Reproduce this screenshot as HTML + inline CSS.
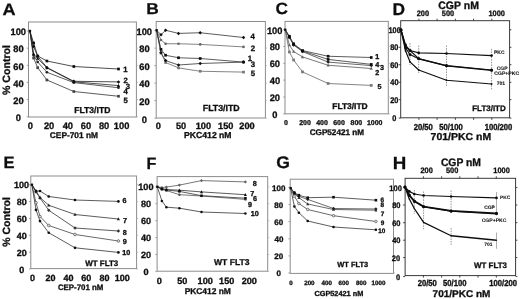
<!DOCTYPE html>
<html><head><meta charset="utf-8"><title>Figure</title>
<style>
html,body{margin:0;padding:0;background:#fff;}
body{width:520px;height:299px;overflow:hidden;font-family:"Liberation Sans",sans-serif;}
svg{display:block;font-family:"Liberation Sans",sans-serif;font-weight:bold;will-change:transform;opacity:0.999;}
text{font-family:"Liberation Sans",sans-serif;font-weight:bold;}
</style></head><body>
<svg width="520" height="299" viewBox="0 0 520 299" text-rendering="geometricPrecision">
<defs><filter id="soft" x="0" y="0" width="520" height="299" filterUnits="userSpaceOnUse"><feGaussianBlur stdDeviation="0.32"/></filter></defs>
<rect x="0" y="0" width="520" height="299" fill="#fff"/>
<g filter="url(#soft)">
<text transform="translate(2.62,14.75) scale(1.107,1)" font-size="16.38" fill="#0d0d0d" stroke="#0d0d0d" stroke-width="0.25">A</text>
<rect x="28.5" y="22" width="107.9" height="95.0" fill="none" stroke="#8c8c8c" stroke-width="1"/>
<line x1="26.70" y1="31.00" x2="28.50" y2="31.00" stroke="#8c8c8c" stroke-width="0.8" />
<line x1="136.40" y1="31.00" x2="138.00" y2="31.00" stroke="#a8a8a8" stroke-width="0.7" />
<text x="10.53" y="35.29" font-size="9.30" fill="#0d0d0d" stroke="#0d0d0d" stroke-width="0.3">100</text>
<line x1="26.70" y1="48.20" x2="28.50" y2="48.20" stroke="#8c8c8c" stroke-width="0.8" />
<line x1="136.40" y1="48.20" x2="138.00" y2="48.20" stroke="#a8a8a8" stroke-width="0.7" />
<text x="13.25" y="52.49" font-size="9.30" fill="#0d0d0d" stroke="#0d0d0d" stroke-width="0.3">80</text>
<line x1="26.70" y1="65.30" x2="28.50" y2="65.30" stroke="#8c8c8c" stroke-width="0.8" />
<line x1="136.40" y1="65.30" x2="138.00" y2="65.30" stroke="#a8a8a8" stroke-width="0.7" />
<text x="13.24" y="69.59" font-size="9.30" fill="#0d0d0d" stroke="#0d0d0d" stroke-width="0.3">60</text>
<line x1="26.70" y1="82.40" x2="28.50" y2="82.40" stroke="#8c8c8c" stroke-width="0.8" />
<line x1="136.40" y1="82.40" x2="138.00" y2="82.40" stroke="#a8a8a8" stroke-width="0.7" />
<text x="13.33" y="86.69" font-size="9.30" fill="#0d0d0d" stroke="#0d0d0d" stroke-width="0.3">40</text>
<line x1="26.70" y1="99.60" x2="28.50" y2="99.60" stroke="#8c8c8c" stroke-width="0.8" />
<line x1="136.40" y1="99.60" x2="138.00" y2="99.60" stroke="#a8a8a8" stroke-width="0.7" />
<text x="13.25" y="103.89" font-size="9.30" fill="#0d0d0d" stroke="#0d0d0d" stroke-width="0.3">20</text>
<line x1="26.70" y1="116.80" x2="28.50" y2="116.80" stroke="#8c8c8c" stroke-width="0.8" />
<line x1="136.40" y1="116.80" x2="138.00" y2="116.80" stroke="#a8a8a8" stroke-width="0.7" />
<text x="15.81" y="121.09" font-size="9.30" fill="#0d0d0d" stroke="#0d0d0d" stroke-width="0.3">0</text>
<text x="27.71" y="129.19" font-size="9.30" fill="#0d0d0d" stroke="#0d0d0d" stroke-width="0.3">0</text>
<text x="43.95" y="129.19" font-size="9.30" fill="#0d0d0d" stroke="#0d0d0d" stroke-width="0.3">20</text>
<text x="62.63" y="129.19" font-size="9.30" fill="#0d0d0d" stroke="#0d0d0d" stroke-width="0.3">40</text>
<text x="80.74" y="129.19" font-size="9.30" fill="#0d0d0d" stroke="#0d0d0d" stroke-width="0.3">60</text>
<text x="98.95" y="129.19" font-size="9.30" fill="#0d0d0d" stroke="#0d0d0d" stroke-width="0.3">80</text>
<text x="113.83" y="129.19" font-size="9.30" fill="#0d0d0d" stroke="#0d0d0d" stroke-width="0.3">100</text>
<text x="49.87" y="138.06" font-size="8.32" fill="#0d0d0d" stroke="#0d0d0d" stroke-width="0.3">CEP-701 nM</text>
<text x="74.23" y="113.42" font-size="8.60" fill="#0d0d0d" stroke="#0d0d0d" stroke-width="0.3">FLT3/ITD</text>
<text transform="translate(10.04,95.07) rotate(-90)" font-size="10.60" fill="#0d0d0d" stroke="#0d0d0d" stroke-width="0.3">% Control</text>
<polyline points="29.90,31.00 33.60,58.00 37.70,67.70 46.90,80.00 73.80,91.50 118.50,96.25" fill="none" stroke="#333" stroke-width="0.8" stroke-linejoin="round"/>
<polyline points="29.90,31.00 33.60,55.00 37.70,62.00 46.90,72.25 73.80,82.60 118.50,87.75" fill="none" stroke="#333" stroke-width="0.8" stroke-linejoin="round"/>
<polyline points="29.90,31.00 33.60,54.00 37.70,58.50 46.90,67.80 73.80,81.80 118.50,85.60" fill="none" stroke="#222" stroke-width="0.8" stroke-linejoin="round"/>
<polyline points="29.90,31.00 33.60,46.50 37.70,56.30 46.90,67.50 73.80,81.30 118.50,81.90" fill="none" stroke="#222" stroke-width="0.8" stroke-linejoin="round"/>
<polyline points="29.90,31.00 33.60,43.00 37.70,56.00 46.90,61.00 73.80,66.50 118.50,69.00" fill="none" stroke="#222" stroke-width="0.8" stroke-linejoin="round"/>
<rect x="32.25" y="56.65" width="2.70" height="2.70" fill="#444"/>
<rect x="36.35" y="66.35" width="2.70" height="2.70" fill="#444"/>
<rect x="45.55" y="78.65" width="2.70" height="2.70" fill="#444"/>
<rect x="72.45" y="90.15" width="2.70" height="2.70" fill="#444"/>
<rect x="117.15" y="94.90" width="2.70" height="2.70" fill="#444"/>
<circle cx="33.60" cy="55.00" r="1.35" fill="#222"/>
<circle cx="37.70" cy="62.00" r="1.35" fill="#222"/>
<circle cx="46.90" cy="72.25" r="1.35" fill="#222"/>
<circle cx="73.80" cy="82.60" r="1.35" fill="#222"/>
<circle cx="118.50" cy="87.75" r="1.35" fill="#222"/>
<path d="M33.60,52.24 L35.22,55.35 L31.98,55.35Z" fill="#111"/>
<path d="M37.70,56.74 L39.32,59.85 L36.08,59.85Z" fill="#111"/>
<path d="M46.90,66.05 L48.52,69.15 L45.28,69.15Z" fill="#111"/>
<path d="M73.80,80.05 L75.42,83.15 L72.18,83.15Z" fill="#111"/>
<path d="M118.50,83.84 L120.12,86.95 L116.88,86.95Z" fill="#111"/>
<path d="M33.60,44.74 L35.36,46.50 L33.60,48.26 L31.85,46.50Z" fill="#111"/>
<path d="M37.70,54.54 L39.46,56.30 L37.70,58.05 L35.95,56.30Z" fill="#111"/>
<path d="M46.90,65.75 L48.66,67.50 L46.90,69.25 L45.14,67.50Z" fill="#111"/>
<path d="M73.80,79.55 L75.55,81.30 L73.80,83.05 L72.05,81.30Z" fill="#111"/>
<path d="M118.50,80.15 L120.25,81.90 L118.50,83.66 L116.75,81.90Z" fill="#111"/>
<rect x="32.25" y="41.65" width="2.70" height="2.70" fill="#111"/>
<rect x="36.35" y="54.65" width="2.70" height="2.70" fill="#111"/>
<rect x="45.55" y="59.65" width="2.70" height="2.70" fill="#111"/>
<rect x="72.45" y="65.15" width="2.70" height="2.70" fill="#111"/>
<rect x="117.15" y="67.65" width="2.70" height="2.70" fill="#111"/>
<rect x="28.80" y="29.80" width="2.3" height="2.4" fill="#111"/>
<text x="123.33" y="72.34" font-size="7.70" fill="#0d0d0d" stroke="#0d0d0d" stroke-width="0.3">1</text>
<text x="123.48" y="83.28" font-size="7.70" fill="#0d0d0d" stroke="#0d0d0d" stroke-width="0.3">2</text>
<text x="125.71" y="88.84" font-size="7.70" fill="#0d0d0d" stroke="#0d0d0d" stroke-width="0.3">3</text>
<text x="123.42" y="94.24" font-size="7.70" fill="#0d0d0d" stroke="#0d0d0d" stroke-width="0.3">4</text>
<text x="123.46" y="102.81" font-size="7.70" fill="#0d0d0d" stroke="#0d0d0d" stroke-width="0.3">5</text>
<text transform="translate(146.24,14.20) scale(1.105,1)" font-size="15.73" fill="#0d0d0d" stroke="#0d0d0d" stroke-width="0.25">B</text>
<rect x="156.2" y="21.5" width="109.19999999999999" height="96.5" fill="none" stroke="#8c8c8c" stroke-width="1"/>
<line x1="154.40" y1="30.60" x2="156.20" y2="30.60" stroke="#8c8c8c" stroke-width="0.8" />
<line x1="265.40" y1="30.60" x2="267.00" y2="30.60" stroke="#a8a8a8" stroke-width="0.7" />
<text x="136.53" y="34.89" font-size="9.30" fill="#0d0d0d" stroke="#0d0d0d" stroke-width="0.3">100</text>
<line x1="154.40" y1="48.10" x2="156.20" y2="48.10" stroke="#8c8c8c" stroke-width="0.8" />
<line x1="265.40" y1="48.10" x2="267.00" y2="48.10" stroke="#a8a8a8" stroke-width="0.7" />
<text x="139.25" y="52.39" font-size="9.30" fill="#0d0d0d" stroke="#0d0d0d" stroke-width="0.3">80</text>
<line x1="154.40" y1="65.60" x2="156.20" y2="65.60" stroke="#8c8c8c" stroke-width="0.8" />
<line x1="265.40" y1="65.60" x2="267.00" y2="65.60" stroke="#a8a8a8" stroke-width="0.7" />
<text x="139.24" y="69.89" font-size="9.30" fill="#0d0d0d" stroke="#0d0d0d" stroke-width="0.3">60</text>
<line x1="154.40" y1="83.10" x2="156.20" y2="83.10" stroke="#8c8c8c" stroke-width="0.8" />
<line x1="265.40" y1="83.10" x2="267.00" y2="83.10" stroke="#a8a8a8" stroke-width="0.7" />
<text x="139.33" y="87.39" font-size="9.30" fill="#0d0d0d" stroke="#0d0d0d" stroke-width="0.3">40</text>
<line x1="154.40" y1="100.60" x2="156.20" y2="100.60" stroke="#8c8c8c" stroke-width="0.8" />
<line x1="265.40" y1="100.60" x2="267.00" y2="100.60" stroke="#a8a8a8" stroke-width="0.7" />
<text x="139.25" y="104.89" font-size="9.30" fill="#0d0d0d" stroke="#0d0d0d" stroke-width="0.3">20</text>
<line x1="154.40" y1="118.30" x2="156.20" y2="118.30" stroke="#8c8c8c" stroke-width="0.8" />
<line x1="265.40" y1="118.30" x2="267.00" y2="118.30" stroke="#a8a8a8" stroke-width="0.7" />
<text x="141.81" y="122.59" font-size="9.30" fill="#0d0d0d" stroke="#0d0d0d" stroke-width="0.3">0</text>
<text x="155.74" y="129.46" font-size="9.20" fill="#0d0d0d" stroke="#0d0d0d" stroke-width="0.3">0</text>
<text x="175.92" y="129.46" font-size="9.20" fill="#0d0d0d" stroke="#0d0d0d" stroke-width="0.3">50</text>
<text x="195.71" y="129.46" font-size="9.20" fill="#0d0d0d" stroke="#0d0d0d" stroke-width="0.3">100</text>
<text x="218.11" y="129.46" font-size="9.20" fill="#0d0d0d" stroke="#0d0d0d" stroke-width="0.3">150</text>
<text x="239.35" y="129.46" font-size="9.20" fill="#0d0d0d" stroke="#0d0d0d" stroke-width="0.3">200</text>
<text x="184.12" y="138.37" font-size="8.64" fill="#0d0d0d" stroke="#0d0d0d" stroke-width="0.3">PKC412 nM</text>
<text x="202.81" y="111.29" font-size="8.79" fill="#0d0d0d" stroke="#0d0d0d" stroke-width="0.3">FLT3/ITD</text>
<polyline points="156.60,30.25 161.00,53.00 165.60,62.50 178.50,67.90 200.20,71.25 243.50,72.10" fill="none" stroke="#666" stroke-width="0.8" stroke-linejoin="round"/>
<polyline points="156.60,30.25 161.00,40.00 165.60,43.75 178.50,43.75 200.20,44.40 243.50,46.90" fill="none" stroke="#666" stroke-width="0.8" stroke-linejoin="round"/>
<polyline points="156.60,30.25 161.00,52.75 165.60,60.60 178.50,65.00 200.20,63.50 243.50,62.10" fill="none" stroke="#333" stroke-width="0.8" stroke-linejoin="round"/>
<polyline points="156.60,30.25 161.00,49.40 165.60,55.25 178.50,57.75 200.20,58.50 243.50,62.10" fill="none" stroke="#333" stroke-width="0.8" stroke-linejoin="round"/>
<polyline points="156.60,30.25 161.00,34.75 165.60,30.25 178.50,33.40 200.20,32.75 243.50,37.50" fill="none" stroke="#333" stroke-width="0.8" stroke-linejoin="round"/>
<rect x="159.65" y="51.65" width="2.70" height="2.70" fill="#777"/>
<rect x="164.25" y="61.15" width="2.70" height="2.70" fill="#777"/>
<rect x="177.15" y="66.55" width="2.70" height="2.70" fill="#777"/>
<rect x="198.85" y="69.90" width="2.70" height="2.70" fill="#777"/>
<rect x="242.15" y="70.75" width="2.70" height="2.70" fill="#777"/>
<circle cx="161.00" cy="40.00" r="1.35" fill="#666"/>
<circle cx="165.60" cy="43.75" r="1.35" fill="#666"/>
<circle cx="178.50" cy="43.75" r="1.35" fill="#666"/>
<circle cx="200.20" cy="44.40" r="1.35" fill="#666"/>
<circle cx="243.50" cy="46.90" r="1.35" fill="#666"/>
<path d="M161.00,50.99 L162.75,52.75 L161.00,54.51 L159.25,52.75Z" fill="#111"/>
<path d="M165.60,58.84 L167.35,60.60 L165.60,62.36 L163.84,60.60Z" fill="#111"/>
<path d="M178.50,63.24 L180.25,65.00 L178.50,66.75 L176.75,65.00Z" fill="#111"/>
<path d="M200.20,61.74 L201.95,63.50 L200.20,65.25 L198.44,63.50Z" fill="#111"/>
<path d="M243.50,60.34 L245.25,62.10 L243.50,63.86 L241.75,62.10Z" fill="#111"/>
<rect x="159.65" y="48.05" width="2.70" height="2.70" fill="#111"/>
<rect x="164.25" y="53.90" width="2.70" height="2.70" fill="#111"/>
<rect x="177.15" y="56.40" width="2.70" height="2.70" fill="#111"/>
<rect x="198.85" y="57.15" width="2.70" height="2.70" fill="#111"/>
<rect x="242.15" y="60.75" width="2.70" height="2.70" fill="#111"/>
<path d="M161.00,32.99 L162.75,34.75 L161.00,36.51 L159.25,34.75Z" fill="#111"/>
<path d="M165.60,28.50 L167.35,30.25 L165.60,32.01 L163.84,30.25Z" fill="#111"/>
<path d="M178.50,31.64 L180.25,33.40 L178.50,35.16 L176.75,33.40Z" fill="#111"/>
<path d="M200.20,31.00 L201.95,32.75 L200.20,34.51 L198.44,32.75Z" fill="#111"/>
<path d="M243.50,35.74 L245.25,37.50 L243.50,39.26 L241.75,37.50Z" fill="#111"/>
<rect x="155.50" y="29.05" width="2.3" height="2.4" fill="#111"/>
<text x="250.59" y="39.28" font-size="7.80" fill="#0d0d0d" stroke="#0d0d0d" stroke-width="0.3">4</text>
<text x="250.66" y="50.52" font-size="7.80" fill="#0d0d0d" stroke="#0d0d0d" stroke-width="0.3">2</text>
<text x="247.70" y="61.48" font-size="7.80" fill="#0d0d0d" stroke="#0d0d0d" stroke-width="0.3">1</text>
<text x="250.68" y="67.48" font-size="7.80" fill="#0d0d0d" stroke="#0d0d0d" stroke-width="0.3">3</text>
<text x="250.63" y="75.84" font-size="7.80" fill="#0d0d0d" stroke="#0d0d0d" stroke-width="0.3">5</text>
<text transform="translate(275.61,14.34) scale(1.063,1)" font-size="16.27" fill="#0d0d0d" stroke="#0d0d0d" stroke-width="0.25">C</text>
<rect x="285" y="21.4" width="103.30000000000001" height="92.4" fill="none" stroke="#8c8c8c" stroke-width="1"/>
<line x1="283.20" y1="29.60" x2="285.00" y2="29.60" stroke="#8c8c8c" stroke-width="0.8" />
<line x1="388.30" y1="29.60" x2="389.90" y2="29.60" stroke="#a8a8a8" stroke-width="0.7" />
<text x="266.93" y="33.59" font-size="9.30" fill="#0d0d0d" stroke="#0d0d0d" stroke-width="0.3">100</text>
<line x1="283.20" y1="46.50" x2="285.00" y2="46.50" stroke="#8c8c8c" stroke-width="0.8" />
<line x1="388.30" y1="46.50" x2="389.90" y2="46.50" stroke="#a8a8a8" stroke-width="0.7" />
<text x="269.65" y="50.49" font-size="9.30" fill="#0d0d0d" stroke="#0d0d0d" stroke-width="0.3">80</text>
<line x1="283.20" y1="63.30" x2="285.00" y2="63.30" stroke="#8c8c8c" stroke-width="0.8" />
<line x1="388.30" y1="63.30" x2="389.90" y2="63.30" stroke="#a8a8a8" stroke-width="0.7" />
<text x="269.64" y="67.29" font-size="9.30" fill="#0d0d0d" stroke="#0d0d0d" stroke-width="0.3">60</text>
<line x1="283.20" y1="80.10" x2="285.00" y2="80.10" stroke="#8c8c8c" stroke-width="0.8" />
<line x1="388.30" y1="80.10" x2="389.90" y2="80.10" stroke="#a8a8a8" stroke-width="0.7" />
<text x="269.73" y="84.09" font-size="9.30" fill="#0d0d0d" stroke="#0d0d0d" stroke-width="0.3">40</text>
<line x1="283.20" y1="97.00" x2="285.00" y2="97.00" stroke="#8c8c8c" stroke-width="0.8" />
<line x1="388.30" y1="97.00" x2="389.90" y2="97.00" stroke="#a8a8a8" stroke-width="0.7" />
<text x="269.65" y="100.99" font-size="9.30" fill="#0d0d0d" stroke="#0d0d0d" stroke-width="0.3">20</text>
<line x1="283.20" y1="113.90" x2="285.00" y2="113.90" stroke="#8c8c8c" stroke-width="0.8" />
<line x1="388.30" y1="113.90" x2="389.90" y2="113.90" stroke="#a8a8a8" stroke-width="0.7" />
<text x="272.21" y="117.89" font-size="9.30" fill="#0d0d0d" stroke="#0d0d0d" stroke-width="0.3">0</text>
<text x="284.05" y="124.90" font-size="7.00" fill="#0d0d0d" stroke="#0d0d0d" stroke-width="0.3">0</text>
<text x="299.18" y="124.90" font-size="7.00" fill="#0d0d0d" stroke="#0d0d0d" stroke-width="0.3">200</text>
<text x="316.14" y="124.90" font-size="7.00" fill="#0d0d0d" stroke="#0d0d0d" stroke-width="0.3">400</text>
<text x="333.17" y="124.90" font-size="7.00" fill="#0d0d0d" stroke="#0d0d0d" stroke-width="0.3">600</text>
<text x="350.58" y="124.90" font-size="7.00" fill="#0d0d0d" stroke="#0d0d0d" stroke-width="0.3">800</text>
<text x="366.93" y="124.90" font-size="7.00" fill="#0d0d0d" stroke="#0d0d0d" stroke-width="0.3">1000</text>
<text x="309.67" y="134.50" font-size="8.17" fill="#0d0d0d" stroke="#0d0d0d" stroke-width="0.3">CGP52421 nM</text>
<text x="332.24" y="108.67" font-size="8.45" fill="#0d0d0d" stroke="#0d0d0d" stroke-width="0.3">FLT3/ITD</text>
<polyline points="285.20,29.75 289.40,52.00 293.60,60.00 302.50,71.90 328.10,83.50 371.25,85.40" fill="none" stroke="#666" stroke-width="0.8" stroke-linejoin="round"/>
<polyline points="285.20,29.75 289.40,45.00 293.60,51.50 302.50,56.90 328.10,65.25 371.25,68.50" fill="none" stroke="#555" stroke-width="0.8" stroke-linejoin="round"/>
<polyline points="285.20,29.75 289.40,37.50 293.60,45.00 302.50,51.60 328.10,62.10 371.25,65.60" fill="none" stroke="#444" stroke-width="0.8" stroke-linejoin="round"/>
<polyline points="285.20,29.75 289.40,37.00 293.60,44.50 302.50,51.00 328.10,59.40 371.25,64.40" fill="none" stroke="#333" stroke-width="0.8" stroke-linejoin="round"/>
<polyline points="285.20,29.75 289.40,36.25 293.60,43.75 302.50,50.60 328.10,56.25 371.25,57.50" fill="none" stroke="#333" stroke-width="0.8" stroke-linejoin="round"/>
<rect x="288.05" y="50.65" width="2.70" height="2.70" fill="#777"/>
<rect x="292.25" y="58.65" width="2.70" height="2.70" fill="#777"/>
<rect x="301.15" y="70.55" width="2.70" height="2.70" fill="#777"/>
<rect x="326.75" y="82.15" width="2.70" height="2.70" fill="#777"/>
<rect x="369.90" y="84.05" width="2.70" height="2.70" fill="#777"/>
<path d="M289.40,43.24 L291.02,46.35 L287.78,46.35Z" fill="#666"/>
<path d="M293.60,49.74 L295.22,52.85 L291.98,52.85Z" fill="#666"/>
<path d="M302.50,55.14 L304.12,58.25 L300.88,58.25Z" fill="#666"/>
<path d="M328.10,63.49 L329.72,66.60 L326.48,66.60Z" fill="#666"/>
<path d="M371.25,66.75 L372.87,69.85 L369.63,69.85Z" fill="#666"/>
<path d="M289.40,35.74 L291.15,37.50 L289.40,39.26 L287.64,37.50Z" fill="#222"/>
<path d="M293.60,43.24 L295.36,45.00 L293.60,46.76 L291.85,45.00Z" fill="#222"/>
<path d="M302.50,49.84 L304.25,51.60 L302.50,53.36 L300.75,51.60Z" fill="#222"/>
<path d="M328.10,60.34 L329.86,62.10 L328.10,63.86 L326.35,62.10Z" fill="#222"/>
<path d="M371.25,63.84 L373.00,65.60 L371.25,67.35 L369.50,65.60Z" fill="#222"/>
<rect x="288.05" y="35.65" width="2.70" height="2.70" fill="#111"/>
<rect x="292.25" y="43.15" width="2.70" height="2.70" fill="#111"/>
<rect x="301.15" y="49.65" width="2.70" height="2.70" fill="#111"/>
<rect x="326.75" y="58.05" width="2.70" height="2.70" fill="#111"/>
<rect x="369.90" y="63.05" width="2.70" height="2.70" fill="#111"/>
<rect x="288.05" y="34.90" width="2.70" height="2.70" fill="#111"/>
<rect x="292.25" y="42.40" width="2.70" height="2.70" fill="#111"/>
<rect x="301.15" y="49.25" width="2.70" height="2.70" fill="#111"/>
<rect x="326.75" y="54.90" width="2.70" height="2.70" fill="#111"/>
<rect x="369.90" y="56.15" width="2.70" height="2.70" fill="#111"/>
<rect x="284.10" y="28.55" width="2.3" height="2.4" fill="#111"/>
<text x="375.18" y="59.47" font-size="7.20" fill="#0d0d0d" stroke="#0d0d0d" stroke-width="0.3">1</text>
<text x="375.26" y="67.47" font-size="7.20" fill="#0d0d0d" stroke="#0d0d0d" stroke-width="0.3">4</text>
<text x="380.04" y="70.07" font-size="7.20" fill="#0d0d0d" stroke="#0d0d0d" stroke-width="0.3">3</text>
<text x="375.32" y="75.31" font-size="7.20" fill="#0d0d0d" stroke="#0d0d0d" stroke-width="0.3">2</text>
<text x="377.40" y="88.74" font-size="7.20" fill="#0d0d0d" stroke="#0d0d0d" stroke-width="0.3">5</text>
<text transform="translate(392.59,14.75) scale(1.023,1)" font-size="16.97" fill="#0d0d0d" stroke="#0d0d0d" stroke-width="0.25">D</text>
<rect x="400.7" y="20.7" width="108.90000000000003" height="97.1" fill="none" stroke="#303030" stroke-width="0.95"/>
<line x1="398.70" y1="29.80" x2="400.70" y2="29.80" stroke="#333" stroke-width="0.9" />
<line x1="509.60" y1="29.80" x2="511.40" y2="29.80" stroke="#333" stroke-width="0.9" />
<text transform="translate(388.45,32.92) scale(0.900,1)" font-size="8.20" fill="#0d0d0d" stroke="#0d0d0d" stroke-width="0.3">100</text>
<line x1="398.70" y1="47.30" x2="400.70" y2="47.30" stroke="#333" stroke-width="0.9" />
<line x1="509.60" y1="47.30" x2="511.40" y2="47.30" stroke="#333" stroke-width="0.9" />
<text transform="translate(390.22,50.42) scale(0.900,1)" font-size="8.20" fill="#0d0d0d" stroke="#0d0d0d" stroke-width="0.3">80</text>
<line x1="398.70" y1="64.70" x2="400.70" y2="64.70" stroke="#333" stroke-width="0.9" />
<line x1="509.60" y1="64.70" x2="511.40" y2="64.70" stroke="#333" stroke-width="0.9" />
<text transform="translate(390.20,67.82) scale(0.900,1)" font-size="8.20" fill="#0d0d0d" stroke="#0d0d0d" stroke-width="0.3">60</text>
<line x1="398.70" y1="82.30" x2="400.70" y2="82.30" stroke="#333" stroke-width="0.9" />
<line x1="509.60" y1="82.30" x2="511.40" y2="82.30" stroke="#333" stroke-width="0.9" />
<text transform="translate(390.28,85.42) scale(0.900,1)" font-size="8.20" fill="#0d0d0d" stroke="#0d0d0d" stroke-width="0.3">40</text>
<line x1="398.70" y1="99.60" x2="400.70" y2="99.60" stroke="#333" stroke-width="0.9" />
<line x1="509.60" y1="99.60" x2="511.40" y2="99.60" stroke="#333" stroke-width="0.9" />
<text transform="translate(390.22,102.72) scale(0.900,1)" font-size="8.20" fill="#0d0d0d" stroke="#0d0d0d" stroke-width="0.3">20</text>
<line x1="398.70" y1="118.10" x2="400.70" y2="118.10" stroke="#333" stroke-width="0.9" />
<line x1="509.60" y1="118.10" x2="511.40" y2="118.10" stroke="#333" stroke-width="0.9" />
<text transform="translate(392.15,121.22) scale(0.900,1)" font-size="8.20" fill="#0d0d0d" stroke="#0d0d0d" stroke-width="0.3">0</text>
<line x1="418.90" y1="18.70" x2="418.90" y2="20.70" stroke="#333" stroke-width="0.9" />
<line x1="418.90" y1="117.80" x2="418.90" y2="119.80" stroke="#333" stroke-width="0.9" />
<line x1="437.10" y1="18.70" x2="437.10" y2="20.70" stroke="#333" stroke-width="0.9" />
<line x1="437.10" y1="117.80" x2="437.10" y2="119.80" stroke="#333" stroke-width="0.9" />
<line x1="455.40" y1="18.70" x2="455.40" y2="20.70" stroke="#333" stroke-width="0.9" />
<line x1="455.40" y1="117.80" x2="455.40" y2="119.80" stroke="#333" stroke-width="0.9" />
<line x1="473.60" y1="18.70" x2="473.60" y2="20.70" stroke="#333" stroke-width="0.9" />
<line x1="473.60" y1="117.80" x2="473.60" y2="119.80" stroke="#333" stroke-width="0.9" />
<line x1="491.80" y1="18.70" x2="491.80" y2="20.70" stroke="#333" stroke-width="0.9" />
<line x1="491.80" y1="117.80" x2="491.80" y2="119.80" stroke="#333" stroke-width="0.9" />
<text transform="translate(416.64,16.48) scale(0.950,1)" font-size="7.80" fill="#0d0d0d" stroke="#0d0d0d" stroke-width="0.3">200</text>
<text transform="translate(441.85,16.48) scale(0.950,1)" font-size="7.80" fill="#0d0d0d" stroke="#0d0d0d" stroke-width="0.3">500</text>
<text transform="translate(488.46,16.48) scale(0.950,1)" font-size="7.80" fill="#0d0d0d" stroke="#0d0d0d" stroke-width="0.3">1000</text>
<text transform="translate(413.74,129.66) scale(0.880,1)" font-size="8.70" fill="#0d0d0d" stroke="#0d0d0d" stroke-width="0.35">20/50</text>
<text transform="translate(439.32,129.66) scale(0.880,1)" font-size="8.70" fill="#0d0d0d" stroke="#0d0d0d" stroke-width="0.35">50/100</text>
<text transform="translate(484.67,129.66) scale(0.880,1)" font-size="8.70" fill="#0d0d0d" stroke="#0d0d0d" stroke-width="0.35">100/200</text>
<text transform="translate(438.28,9.09) scale(0.976,1)" font-size="10.75" fill="#0d0d0d" stroke="#0d0d0d" stroke-width="0.3">CGP nM</text>
<text transform="translate(430.55,140.25) scale(1.040,1)" font-size="10.09" fill="#0d0d0d" stroke="#0d0d0d" stroke-width="0.3">701/PKC nM</text>
<text x="472.27" y="110.50" font-size="7.96" fill="#0d0d0d" stroke="#0d0d0d" stroke-width="0.3">FLT3/ITD</text>
<line x1="410.00" y1="43.00" x2="410.00" y2="65.00" stroke="#9a9a9a" stroke-width="1.0" stroke-dasharray="1.6,1.0"/>
<line x1="418.70" y1="45.50" x2="418.70" y2="73.00" stroke="#9a9a9a" stroke-width="1.0" stroke-dasharray="1.6,1.0"/>
<line x1="446.50" y1="45.50" x2="446.50" y2="86.00" stroke="#9a9a9a" stroke-width="1.0" stroke-dasharray="1.6,1.0"/>
<line x1="491.60" y1="48.80" x2="491.60" y2="89.40" stroke="#9a9a9a" stroke-width="1.0" stroke-dasharray="1.6,1.0"/>
<polyline points="401.00,29.90 405.60,46.50 410.00,50.50 418.70,52.90 446.50,53.50 491.60,55.60" fill="none" stroke="#111" stroke-width="1.1" stroke-linejoin="round"/>
<circle cx="401.00" cy="29.90" r="1.30" fill="#111"/>
<circle cx="405.60" cy="46.50" r="1.30" fill="#111"/>
<circle cx="410.00" cy="50.50" r="1.30" fill="#111"/>
<circle cx="418.70" cy="52.90" r="1.30" fill="#111"/>
<circle cx="446.50" cy="53.50" r="1.30" fill="#111"/>
<circle cx="491.60" cy="55.60" r="1.30" fill="#111"/>
<polyline points="401.00,29.90 405.60,48.00 410.00,54.50 418.70,58.80 446.50,65.60 491.60,70.00" fill="none" stroke="#111" stroke-width="1.25" stroke-linejoin="round"/>
<circle cx="401.00" cy="29.90" r="1.50" fill="#111"/>
<circle cx="405.60" cy="48.00" r="1.50" fill="#111"/>
<circle cx="410.00" cy="54.50" r="1.50" fill="#111"/>
<circle cx="418.70" cy="58.80" r="1.50" fill="#111"/>
<circle cx="446.50" cy="65.60" r="1.50" fill="#111"/>
<circle cx="491.60" cy="70.00" r="1.50" fill="#111"/>
<polyline points="401.00,29.90 405.60,45.00 410.00,50.50 418.70,58.60 446.50,65.90 491.60,70.40" fill="none" stroke="#111" stroke-width="1.15" stroke-linejoin="round"/>
<circle cx="401.00" cy="29.90" r="1.40" fill="#111"/>
<circle cx="405.60" cy="45.00" r="1.40" fill="#111"/>
<circle cx="410.00" cy="50.50" r="1.40" fill="#111"/>
<circle cx="418.70" cy="58.60" r="1.40" fill="#111"/>
<circle cx="446.50" cy="65.90" r="1.40" fill="#111"/>
<circle cx="491.60" cy="70.40" r="1.40" fill="#111"/>
<polyline points="401.00,29.90 405.60,51.00 410.00,61.90 418.70,70.00 446.50,80.25 491.60,84.00" fill="none" stroke="#111" stroke-width="1.2" stroke-linejoin="round"/>
<circle cx="401.00" cy="29.90" r="0.90" fill="#111"/>
<circle cx="405.60" cy="51.00" r="0.90" fill="#111"/>
<circle cx="410.00" cy="61.90" r="0.90" fill="#111"/>
<circle cx="418.70" cy="70.00" r="0.90" fill="#111"/>
<circle cx="446.50" cy="80.25" r="0.90" fill="#111"/>
<circle cx="491.60" cy="84.00" r="0.90" fill="#111"/>
<text x="494.07" y="53.70" font-size="4.96" fill="#0d0d0d" stroke="#0d0d0d" stroke-width="0.08">PKC</text>
<text x="496.70" y="69.84" font-size="5.06" fill="#0d0d0d" stroke="#0d0d0d" stroke-width="0.08">CGP</text>
<text x="494.19" y="74.86" font-size="5.13" fill="#0d0d0d" stroke="#0d0d0d" stroke-width="0.08">CGP+PKC</text>
<text x="496.68" y="84.84" font-size="5.07" fill="#0d0d0d" stroke="#0d0d0d" stroke-width="0.08">701</text>
<text transform="translate(3.39,168.40) scale(1.009,1)" font-size="16.46" fill="#0d0d0d" stroke="#0d0d0d" stroke-width="0.25">E</text>
<rect x="30.8" y="176" width="105.8" height="92.60000000000002" fill="none" stroke="#8c8c8c" stroke-width="1"/>
<line x1="29.00" y1="184.70" x2="30.80" y2="184.70" stroke="#8c8c8c" stroke-width="0.8" />
<line x1="136.60" y1="184.70" x2="138.20" y2="184.70" stroke="#a8a8a8" stroke-width="0.7" />
<text x="14.08" y="188.49" font-size="9.00" fill="#0d0d0d" stroke="#0d0d0d" stroke-width="0.3">100</text>
<line x1="29.00" y1="201.60" x2="30.80" y2="201.60" stroke="#8c8c8c" stroke-width="0.8" />
<line x1="136.60" y1="201.60" x2="138.20" y2="201.60" stroke="#a8a8a8" stroke-width="0.7" />
<text x="16.72" y="205.39" font-size="9.00" fill="#0d0d0d" stroke="#0d0d0d" stroke-width="0.3">80</text>
<line x1="29.00" y1="218.50" x2="30.80" y2="218.50" stroke="#8c8c8c" stroke-width="0.8" />
<line x1="136.60" y1="218.50" x2="138.20" y2="218.50" stroke="#a8a8a8" stroke-width="0.7" />
<text x="16.71" y="222.29" font-size="9.00" fill="#0d0d0d" stroke="#0d0d0d" stroke-width="0.3">60</text>
<line x1="29.00" y1="235.30" x2="30.80" y2="235.30" stroke="#8c8c8c" stroke-width="0.8" />
<line x1="136.60" y1="235.30" x2="138.20" y2="235.30" stroke="#a8a8a8" stroke-width="0.7" />
<text x="16.80" y="239.09" font-size="9.00" fill="#0d0d0d" stroke="#0d0d0d" stroke-width="0.3">40</text>
<line x1="29.00" y1="252.20" x2="30.80" y2="252.20" stroke="#8c8c8c" stroke-width="0.8" />
<line x1="136.60" y1="252.20" x2="138.20" y2="252.20" stroke="#a8a8a8" stroke-width="0.7" />
<text x="16.72" y="255.99" font-size="9.00" fill="#0d0d0d" stroke="#0d0d0d" stroke-width="0.3">20</text>
<line x1="29.00" y1="269.00" x2="30.80" y2="269.00" stroke="#8c8c8c" stroke-width="0.8" />
<line x1="136.60" y1="269.00" x2="138.20" y2="269.00" stroke="#a8a8a8" stroke-width="0.7" />
<text x="19.20" y="272.79" font-size="9.00" fill="#0d0d0d" stroke="#0d0d0d" stroke-width="0.3">0</text>
<text x="30.10" y="281.49" font-size="9.00" fill="#0d0d0d" stroke="#0d0d0d" stroke-width="0.3">0</text>
<text x="45.42" y="281.49" font-size="9.00" fill="#0d0d0d" stroke="#0d0d0d" stroke-width="0.3">20</text>
<text x="63.50" y="281.49" font-size="9.00" fill="#0d0d0d" stroke="#0d0d0d" stroke-width="0.3">40</text>
<text x="81.20" y="281.49" font-size="9.00" fill="#0d0d0d" stroke="#0d0d0d" stroke-width="0.3">60</text>
<text x="99.62" y="281.49" font-size="9.00" fill="#0d0d0d" stroke="#0d0d0d" stroke-width="0.3">80</text>
<text x="114.78" y="281.49" font-size="9.00" fill="#0d0d0d" stroke="#0d0d0d" stroke-width="0.3">100</text>
<text x="57.88" y="289.51" font-size="7.88" fill="#0d0d0d" stroke="#0d0d0d" stroke-width="0.3">CEP-701 nM</text>
<text x="85.30" y="265.73" font-size="7.96" fill="#0d0d0d" stroke="#0d0d0d" stroke-width="0.3">WT FLT3</text>
<text transform="translate(9.61,246.73) rotate(-90)" font-size="10.50" fill="#0d0d0d" stroke="#0d0d0d" stroke-width="0.3">% Control</text>
<polyline points="31.90,184.75 36.00,202.70 40.00,216.50 48.75,225.50 75.00,234.50 118.40,241.00" fill="none" stroke="#444" stroke-width="0.8" stroke-linejoin="round"/>
<polyline points="31.90,184.75 36.00,192.00 40.00,198.00 48.75,210.30 75.00,228.00 118.40,231.00" fill="none" stroke="#333" stroke-width="0.8" stroke-linejoin="round"/>
<polyline points="31.90,184.75 36.00,191.00 40.00,197.50 48.75,205.25 75.00,214.50 118.40,219.00" fill="none" stroke="#333" stroke-width="0.8" stroke-linejoin="round"/>
<polyline points="31.90,184.75 36.00,209.90 40.00,221.10 48.75,232.75 75.00,247.80 118.40,252.40" fill="none" stroke="#333" stroke-width="0.8" stroke-linejoin="round"/>
<polyline points="31.90,184.75 36.00,191.00 40.00,191.00 48.75,196.50 75.00,200.00 118.40,201.40" fill="none" stroke="#333" stroke-width="0.8" stroke-linejoin="round"/>
<circle cx="36.00" cy="202.70" r="1.35" fill="#ddd" stroke="#555" stroke-width="0.7"/>
<circle cx="40.00" cy="216.50" r="1.35" fill="#ddd" stroke="#555" stroke-width="0.7"/>
<circle cx="48.75" cy="225.50" r="1.35" fill="#ddd" stroke="#555" stroke-width="0.7"/>
<circle cx="75.00" cy="234.50" r="1.35" fill="#ddd" stroke="#555" stroke-width="0.7"/>
<circle cx="118.40" cy="241.00" r="1.35" fill="#ddd" stroke="#555" stroke-width="0.7"/>
<path d="M36.00,190.25 L37.76,192.00 L36.00,193.75 L34.24,192.00Z" fill="#333"/>
<path d="M40.00,196.25 L41.76,198.00 L40.00,199.75 L38.24,198.00Z" fill="#333"/>
<path d="M48.75,208.55 L50.51,210.30 L48.75,212.06 L46.99,210.30Z" fill="#333"/>
<path d="M75.00,226.25 L76.75,228.00 L75.00,229.75 L73.25,228.00Z" fill="#333"/>
<path d="M118.40,229.25 L120.16,231.00 L118.40,232.75 L116.65,231.00Z" fill="#333"/>
<path d="M36.00,189.25 L37.62,192.35 L34.38,192.35Z" fill="#222"/>
<path d="M40.00,195.75 L41.62,198.85 L38.38,198.85Z" fill="#222"/>
<path d="M48.75,203.50 L50.37,206.60 L47.13,206.60Z" fill="#222"/>
<path d="M75.00,212.75 L76.62,215.85 L73.38,215.85Z" fill="#222"/>
<path d="M118.40,217.25 L120.02,220.35 L116.78,220.35Z" fill="#222"/>
<circle cx="36.00" cy="209.90" r="1.35" fill="#111"/>
<circle cx="40.00" cy="221.10" r="1.35" fill="#111"/>
<circle cx="48.75" cy="232.75" r="1.35" fill="#111"/>
<circle cx="75.00" cy="247.80" r="1.35" fill="#111"/>
<circle cx="118.40" cy="252.40" r="1.35" fill="#111"/>
<circle cx="36.00" cy="191.00" r="1.35" fill="#111"/>
<circle cx="40.00" cy="191.00" r="1.35" fill="#111"/>
<circle cx="48.75" cy="196.50" r="1.35" fill="#111"/>
<circle cx="75.00" cy="200.00" r="1.35" fill="#111"/>
<circle cx="118.40" cy="201.40" r="1.35" fill="#111"/>
<rect x="30.80" y="183.55" width="2.3" height="2.4" fill="#111"/>
<text x="122.50" y="203.17" font-size="7.20" fill="#0d0d0d" stroke="#0d0d0d" stroke-width="0.3">6</text>
<text x="123.00" y="222.77" font-size="7.20" fill="#0d0d0d" stroke="#0d0d0d" stroke-width="0.3">7</text>
<text x="122.78" y="235.37" font-size="7.20" fill="#0d0d0d" stroke="#0d0d0d" stroke-width="0.3">8</text>
<text x="122.81" y="243.67" font-size="7.20" fill="#0d0d0d" stroke="#0d0d0d" stroke-width="0.3">9</text>
<text x="122.21" y="255.47" font-size="7.20" fill="#0d0d0d" stroke="#0d0d0d" stroke-width="0.3">10</text>
<text transform="translate(146.52,168.80) scale(0.983,1)" font-size="16.46" fill="#0d0d0d" stroke="#0d0d0d" stroke-width="0.25">F</text>
<rect x="157.1" y="176.6" width="110.6" height="94.6" fill="none" stroke="#8c8c8c" stroke-width="1"/>
<line x1="155.30" y1="186.80" x2="157.10" y2="186.80" stroke="#8c8c8c" stroke-width="0.8" />
<line x1="267.70" y1="186.80" x2="269.30" y2="186.80" stroke="#a8a8a8" stroke-width="0.7" />
<text x="138.30" y="190.42" font-size="9.10" fill="#0d0d0d" stroke="#0d0d0d" stroke-width="0.3">100</text>
<line x1="155.30" y1="203.70" x2="157.10" y2="203.70" stroke="#8c8c8c" stroke-width="0.8" />
<line x1="267.70" y1="203.70" x2="269.30" y2="203.70" stroke="#a8a8a8" stroke-width="0.7" />
<text x="140.96" y="207.32" font-size="9.10" fill="#0d0d0d" stroke="#0d0d0d" stroke-width="0.3">80</text>
<line x1="155.30" y1="220.70" x2="157.10" y2="220.70" stroke="#8c8c8c" stroke-width="0.8" />
<line x1="267.70" y1="220.70" x2="269.30" y2="220.70" stroke="#a8a8a8" stroke-width="0.7" />
<text x="140.95" y="224.32" font-size="9.10" fill="#0d0d0d" stroke="#0d0d0d" stroke-width="0.3">60</text>
<line x1="155.30" y1="237.60" x2="157.10" y2="237.60" stroke="#8c8c8c" stroke-width="0.8" />
<line x1="267.70" y1="237.60" x2="269.30" y2="237.60" stroke="#a8a8a8" stroke-width="0.7" />
<text x="141.04" y="241.22" font-size="9.10" fill="#0d0d0d" stroke="#0d0d0d" stroke-width="0.3">40</text>
<line x1="155.30" y1="254.50" x2="157.10" y2="254.50" stroke="#8c8c8c" stroke-width="0.8" />
<line x1="267.70" y1="254.50" x2="269.30" y2="254.50" stroke="#a8a8a8" stroke-width="0.7" />
<text x="140.96" y="258.12" font-size="9.10" fill="#0d0d0d" stroke="#0d0d0d" stroke-width="0.3">20</text>
<line x1="155.30" y1="271.60" x2="157.10" y2="271.60" stroke="#8c8c8c" stroke-width="0.8" />
<line x1="267.70" y1="271.60" x2="269.30" y2="271.60" stroke="#a8a8a8" stroke-width="0.7" />
<text x="143.47" y="275.22" font-size="9.10" fill="#0d0d0d" stroke="#0d0d0d" stroke-width="0.3">0</text>
<text x="156.67" y="283.72" font-size="9.10" fill="#0d0d0d" stroke="#0d0d0d" stroke-width="0.3">0</text>
<text x="177.18" y="283.72" font-size="9.10" fill="#0d0d0d" stroke="#0d0d0d" stroke-width="0.3">50</text>
<text x="197.60" y="283.72" font-size="9.10" fill="#0d0d0d" stroke="#0d0d0d" stroke-width="0.3">100</text>
<text x="219.10" y="283.72" font-size="9.10" fill="#0d0d0d" stroke="#0d0d0d" stroke-width="0.3">150</text>
<text x="241.63" y="283.72" font-size="9.10" fill="#0d0d0d" stroke="#0d0d0d" stroke-width="0.3">200</text>
<text x="184.64" y="294.09" font-size="8.42" fill="#0d0d0d" stroke="#0d0d0d" stroke-width="0.3">PKC412 nM</text>
<text x="214.00" y="264.54" font-size="8.56" fill="#0d0d0d" stroke="#0d0d0d" stroke-width="0.3">WT FLT3</text>
<polyline points="157.30,186.80 161.90,187.60 166.40,187.10 179.40,185.10 201.50,180.60 245.40,181.90" fill="none" stroke="#555" stroke-width="0.8" stroke-linejoin="round"/>
<polyline points="157.30,186.80 161.90,189.50 166.40,190.50 179.40,194.70 201.50,196.00 245.40,199.40" fill="none" stroke="#555" stroke-width="0.8" stroke-linejoin="round"/>
<polyline points="157.30,186.80 161.90,188.50 166.40,189.50 179.40,190.20 201.50,191.90 245.40,194.70" fill="none" stroke="#333" stroke-width="0.8" stroke-linejoin="round"/>
<polyline points="157.30,186.80 161.90,189.00 166.40,190.00 179.40,191.40 201.50,195.70 245.40,198.20" fill="none" stroke="#333" stroke-width="0.8" stroke-linejoin="round"/>
<polyline points="157.30,186.80 161.90,200.90 166.40,207.20 179.40,208.20 201.50,212.00 245.40,213.50" fill="none" stroke="#333" stroke-width="0.8" stroke-linejoin="round"/>
<path d="M161.90,185.97 L163.53,187.60 L161.90,189.22 L160.28,187.60Z" fill="#666"/>
<path d="M166.40,185.47 L168.03,187.10 L166.40,188.72 L164.78,187.10Z" fill="#666"/>
<path d="M179.40,183.47 L181.03,185.10 L179.40,186.72 L177.78,185.10Z" fill="#666"/>
<path d="M201.50,178.97 L203.12,180.60 L201.50,182.22 L199.88,180.60Z" fill="#666"/>
<path d="M245.40,180.28 L247.03,181.90 L245.40,183.53 L243.78,181.90Z" fill="#666"/>
<circle cx="161.90" cy="189.50" r="1.25" fill="#555"/>
<circle cx="166.40" cy="190.50" r="1.25" fill="#555"/>
<circle cx="179.40" cy="194.70" r="1.25" fill="#555"/>
<circle cx="201.50" cy="196.00" r="1.25" fill="#555"/>
<circle cx="245.40" cy="199.40" r="1.25" fill="#555"/>
<path d="M161.90,186.88 L163.40,189.75 L160.40,189.75Z" fill="#111"/>
<path d="M166.40,187.88 L167.90,190.75 L164.90,190.75Z" fill="#111"/>
<path d="M179.40,188.57 L180.90,191.45 L177.90,191.45Z" fill="#111"/>
<path d="M201.50,190.28 L203.00,193.15 L200.00,193.15Z" fill="#111"/>
<path d="M245.40,193.07 L246.90,195.95 L243.90,195.95Z" fill="#111"/>
<rect x="160.65" y="187.75" width="2.50" height="2.50" fill="#111"/>
<rect x="165.15" y="188.75" width="2.50" height="2.50" fill="#111"/>
<rect x="178.15" y="190.15" width="2.50" height="2.50" fill="#111"/>
<rect x="200.25" y="194.45" width="2.50" height="2.50" fill="#111"/>
<rect x="244.15" y="196.95" width="2.50" height="2.50" fill="#111"/>
<circle cx="161.90" cy="200.90" r="1.25" fill="#111"/>
<circle cx="166.40" cy="207.20" r="1.25" fill="#111"/>
<circle cx="179.40" cy="208.20" r="1.25" fill="#111"/>
<circle cx="201.50" cy="212.00" r="1.25" fill="#111"/>
<circle cx="245.40" cy="213.50" r="1.25" fill="#111"/>
<rect x="156.20" y="185.60" width="2.3" height="2.4" fill="#111"/>
<text x="252.68" y="186.47" font-size="7.20" fill="#0d0d0d" stroke="#0d0d0d" stroke-width="0.3">8</text>
<text x="250.20" y="195.67" font-size="7.20" fill="#0d0d0d" stroke="#0d0d0d" stroke-width="0.3">7</text>
<text x="252.90" y="201.17" font-size="7.20" fill="#0d0d0d" stroke="#0d0d0d" stroke-width="0.3">6</text>
<text x="248.01" y="207.47" font-size="7.20" fill="#0d0d0d" stroke="#0d0d0d" stroke-width="0.3">9</text>
<text x="250.71" y="216.47" font-size="7.20" fill="#0d0d0d" stroke="#0d0d0d" stroke-width="0.3">10</text>
<text transform="translate(276.30,168.23) scale(1.053,1)" font-size="16.70" fill="#0d0d0d" stroke="#0d0d0d" stroke-width="0.25">G</text>
<rect x="290.2" y="179.2" width="103.30000000000001" height="94.19999999999999" fill="none" stroke="#8c8c8c" stroke-width="1"/>
<line x1="288.40" y1="187.40" x2="290.20" y2="187.40" stroke="#8c8c8c" stroke-width="0.8" />
<line x1="393.50" y1="187.40" x2="395.10" y2="187.40" stroke="#a8a8a8" stroke-width="0.7" />
<text x="272.03" y="190.55" font-size="8.00" fill="#0d0d0d" stroke="#0d0d0d" stroke-width="0.3">100</text>
<line x1="288.40" y1="204.50" x2="290.20" y2="204.50" stroke="#8c8c8c" stroke-width="0.8" />
<line x1="393.50" y1="204.50" x2="395.10" y2="204.50" stroke="#a8a8a8" stroke-width="0.7" />
<text x="274.37" y="207.65" font-size="8.00" fill="#0d0d0d" stroke="#0d0d0d" stroke-width="0.3">80</text>
<line x1="288.40" y1="221.60" x2="290.20" y2="221.60" stroke="#8c8c8c" stroke-width="0.8" />
<line x1="393.50" y1="221.60" x2="395.10" y2="221.60" stroke="#a8a8a8" stroke-width="0.7" />
<text x="274.36" y="224.75" font-size="8.00" fill="#0d0d0d" stroke="#0d0d0d" stroke-width="0.3">60</text>
<line x1="288.40" y1="238.80" x2="290.20" y2="238.80" stroke="#8c8c8c" stroke-width="0.8" />
<line x1="393.50" y1="238.80" x2="395.10" y2="238.80" stroke="#a8a8a8" stroke-width="0.7" />
<text x="274.44" y="241.95" font-size="8.00" fill="#0d0d0d" stroke="#0d0d0d" stroke-width="0.3">40</text>
<line x1="288.40" y1="255.90" x2="290.20" y2="255.90" stroke="#8c8c8c" stroke-width="0.8" />
<line x1="393.50" y1="255.90" x2="395.10" y2="255.90" stroke="#a8a8a8" stroke-width="0.7" />
<text x="274.37" y="259.05" font-size="8.00" fill="#0d0d0d" stroke="#0d0d0d" stroke-width="0.3">20</text>
<line x1="288.40" y1="273.00" x2="290.20" y2="273.00" stroke="#8c8c8c" stroke-width="0.8" />
<line x1="393.50" y1="273.00" x2="395.10" y2="273.00" stroke="#a8a8a8" stroke-width="0.7" />
<text x="276.57" y="276.15" font-size="8.00" fill="#0d0d0d" stroke="#0d0d0d" stroke-width="0.3">0</text>
<text x="289.17" y="284.73" font-size="6.20" fill="#0d0d0d" stroke="#0d0d0d" stroke-width="0.3">0</text>
<text x="304.24" y="284.73" font-size="6.20" fill="#0d0d0d" stroke="#0d0d0d" stroke-width="0.3">200</text>
<text x="321.50" y="284.73" font-size="6.20" fill="#0d0d0d" stroke="#0d0d0d" stroke-width="0.3">400</text>
<text x="338.53" y="284.73" font-size="6.20" fill="#0d0d0d" stroke="#0d0d0d" stroke-width="0.3">600</text>
<text x="356.04" y="284.73" font-size="6.20" fill="#0d0d0d" stroke="#0d0d0d" stroke-width="0.3">800</text>
<text x="371.62" y="284.73" font-size="6.20" fill="#0d0d0d" stroke="#0d0d0d" stroke-width="0.3">1000</text>
<text x="314.41" y="295.52" font-size="7.34" fill="#0d0d0d" stroke="#0d0d0d" stroke-width="0.3">CGP52421 nM</text>
<text x="337.30" y="266.76" font-size="7.45" fill="#0d0d0d" stroke="#0d0d0d" stroke-width="0.3">WT FLT3</text>
<polyline points="290.60,188.10 294.40,196.40 298.90,203.50 307.70,209.50 333.50,215.70 375.90,221.50" fill="none" stroke="#444" stroke-width="0.8" stroke-linejoin="round"/>
<polyline points="290.60,188.10 294.40,193.50 298.90,197.70 307.70,204.00 333.50,209.50 375.90,210.20" fill="none" stroke="#444" stroke-width="0.8" stroke-linejoin="round"/>
<polyline points="290.60,188.10 294.40,193.00 298.90,196.40 307.70,199.40 333.50,208.50 375.90,209.00" fill="none" stroke="#444" stroke-width="0.8" stroke-linejoin="round"/>
<polyline points="290.60,188.10 294.40,206.50 298.90,212.70 307.70,221.00 333.50,227.00 375.90,229.80" fill="none" stroke="#333" stroke-width="0.8" stroke-linejoin="round"/>
<polyline points="290.60,188.10 294.40,192.70 298.90,195.20 307.70,197.70 333.50,197.20 375.90,200.20" fill="none" stroke="#333" stroke-width="0.8" stroke-linejoin="round"/>
<circle cx="294.40" cy="196.40" r="1.30" fill="#ddd" stroke="#555" stroke-width="0.7"/>
<circle cx="298.90" cy="203.50" r="1.30" fill="#ddd" stroke="#555" stroke-width="0.7"/>
<circle cx="307.70" cy="209.50" r="1.30" fill="#ddd" stroke="#555" stroke-width="0.7"/>
<circle cx="333.50" cy="215.70" r="1.30" fill="#ddd" stroke="#555" stroke-width="0.7"/>
<circle cx="375.90" cy="221.50" r="1.30" fill="#ddd" stroke="#555" stroke-width="0.7"/>
<path d="M294.40,191.81 L295.96,194.80 L292.84,194.80Z" fill="#333"/>
<path d="M298.90,196.01 L300.46,199.00 L297.34,199.00Z" fill="#333"/>
<path d="M307.70,202.31 L309.26,205.30 L306.14,205.30Z" fill="#333"/>
<path d="M333.50,207.81 L335.06,210.80 L331.94,210.80Z" fill="#333"/>
<path d="M375.90,208.51 L377.46,211.50 L374.34,211.50Z" fill="#333"/>
<path d="M294.40,191.31 L296.09,193.00 L294.40,194.69 L292.71,193.00Z" fill="#222"/>
<path d="M298.90,194.71 L300.59,196.40 L298.90,198.09 L297.21,196.40Z" fill="#222"/>
<path d="M307.70,197.71 L309.39,199.40 L307.70,201.09 L306.01,199.40Z" fill="#222"/>
<path d="M333.50,206.81 L335.19,208.50 L333.50,210.19 L331.81,208.50Z" fill="#222"/>
<path d="M375.90,207.31 L377.59,209.00 L375.90,210.69 L374.21,209.00Z" fill="#222"/>
<circle cx="294.40" cy="206.50" r="1.30" fill="#111"/>
<circle cx="298.90" cy="212.70" r="1.30" fill="#111"/>
<circle cx="307.70" cy="221.00" r="1.30" fill="#111"/>
<circle cx="333.50" cy="227.00" r="1.30" fill="#111"/>
<circle cx="375.90" cy="229.80" r="1.30" fill="#111"/>
<rect x="293.10" y="191.40" width="2.60" height="2.60" fill="#111"/>
<rect x="297.60" y="193.90" width="2.60" height="2.60" fill="#111"/>
<rect x="306.40" y="196.40" width="2.60" height="2.60" fill="#111"/>
<rect x="332.20" y="195.90" width="2.60" height="2.60" fill="#111"/>
<rect x="374.60" y="198.90" width="2.60" height="2.60" fill="#111"/>
<rect x="289.50" y="186.90" width="2.3" height="2.4" fill="#111"/>
<text x="380.62" y="201.60" font-size="6.40" fill="#0d0d0d" stroke="#0d0d0d" stroke-width="0.3">6</text>
<text x="380.61" y="207.00" font-size="6.40" fill="#0d0d0d" stroke="#0d0d0d" stroke-width="0.3">8</text>
<text x="380.82" y="216.10" font-size="6.40" fill="#0d0d0d" stroke="#0d0d0d" stroke-width="0.3">7</text>
<text x="380.63" y="225.00" font-size="6.40" fill="#0d0d0d" stroke="#0d0d0d" stroke-width="0.3">9</text>
<text x="378.16" y="233.20" font-size="6.40" fill="#0d0d0d" stroke="#0d0d0d" stroke-width="0.3">10</text>
<text transform="translate(392.75,169.00) scale(1.064,1)" font-size="17.62" fill="#0d0d0d" stroke="#0d0d0d" stroke-width="0.25">H</text>
<rect x="405.1" y="178.3" width="110.5" height="97.30000000000001" fill="none" stroke="#303030" stroke-width="0.95"/>
<line x1="403.10" y1="187.60" x2="405.10" y2="187.60" stroke="#333" stroke-width="0.9" />
<line x1="515.60" y1="187.60" x2="517.40" y2="187.60" stroke="#333" stroke-width="0.9" />
<text transform="translate(389.37,190.61) scale(0.950,1)" font-size="7.90" fill="#0d0d0d" stroke="#0d0d0d" stroke-width="0.3">100</text>
<line x1="403.10" y1="205.00" x2="405.10" y2="205.00" stroke="#333" stroke-width="0.9" />
<line x1="515.60" y1="205.00" x2="517.40" y2="205.00" stroke="#333" stroke-width="0.9" />
<text transform="translate(392.14,208.01) scale(0.950,1)" font-size="7.90" fill="#0d0d0d" stroke="#0d0d0d" stroke-width="0.3">80</text>
<line x1="403.10" y1="222.70" x2="405.10" y2="222.70" stroke="#333" stroke-width="0.9" />
<line x1="515.60" y1="222.70" x2="517.40" y2="222.70" stroke="#333" stroke-width="0.9" />
<text transform="translate(392.14,225.71) scale(0.950,1)" font-size="7.90" fill="#0d0d0d" stroke="#0d0d0d" stroke-width="0.3">60</text>
<line x1="403.10" y1="240.20" x2="405.10" y2="240.20" stroke="#333" stroke-width="0.9" />
<line x1="515.60" y1="240.20" x2="517.40" y2="240.20" stroke="#333" stroke-width="0.9" />
<text transform="translate(392.14,243.21) scale(0.950,1)" font-size="7.90" fill="#0d0d0d" stroke="#0d0d0d" stroke-width="0.3">40</text>
<line x1="403.10" y1="257.60" x2="405.10" y2="257.60" stroke="#333" stroke-width="0.9" />
<line x1="515.60" y1="257.60" x2="517.40" y2="257.60" stroke="#333" stroke-width="0.9" />
<text transform="translate(391.74,260.61) scale(0.950,1)" font-size="7.90" fill="#0d0d0d" stroke="#0d0d0d" stroke-width="0.3">20</text>
<line x1="403.10" y1="276.60" x2="405.10" y2="276.60" stroke="#333" stroke-width="0.9" />
<line x1="515.60" y1="276.60" x2="517.40" y2="276.60" stroke="#333" stroke-width="0.9" />
<text transform="translate(396.02,279.61) scale(0.950,1)" font-size="7.90" fill="#0d0d0d" stroke="#0d0d0d" stroke-width="0.3">0</text>
<line x1="423.40" y1="176.30" x2="423.40" y2="178.30" stroke="#333" stroke-width="0.9" />
<line x1="423.40" y1="275.60" x2="423.40" y2="277.60" stroke="#333" stroke-width="0.9" />
<line x1="441.60" y1="176.30" x2="441.60" y2="178.30" stroke="#333" stroke-width="0.9" />
<line x1="441.60" y1="275.60" x2="441.60" y2="277.60" stroke="#333" stroke-width="0.9" />
<line x1="459.80" y1="176.30" x2="459.80" y2="178.30" stroke="#333" stroke-width="0.9" />
<line x1="459.80" y1="275.60" x2="459.80" y2="277.60" stroke="#333" stroke-width="0.9" />
<line x1="478.00" y1="176.30" x2="478.00" y2="178.30" stroke="#333" stroke-width="0.9" />
<line x1="478.00" y1="275.60" x2="478.00" y2="277.60" stroke="#333" stroke-width="0.9" />
<line x1="496.30" y1="176.30" x2="496.30" y2="178.30" stroke="#333" stroke-width="0.9" />
<line x1="496.30" y1="275.60" x2="496.30" y2="277.60" stroke="#333" stroke-width="0.9" />
<text transform="translate(420.44,173.18) scale(0.950,1)" font-size="7.80" fill="#0d0d0d" stroke="#0d0d0d" stroke-width="0.3">200</text>
<text transform="translate(445.95,173.18) scale(0.950,1)" font-size="7.80" fill="#0d0d0d" stroke="#0d0d0d" stroke-width="0.3">500</text>
<text transform="translate(493.36,173.18) scale(0.950,1)" font-size="7.80" fill="#0d0d0d" stroke="#0d0d0d" stroke-width="0.3">1000</text>
<text transform="translate(417.64,285.96) scale(0.880,1)" font-size="8.70" fill="#0d0d0d" stroke="#0d0d0d" stroke-width="0.35">20/50</text>
<text transform="translate(443.02,285.96) scale(0.880,1)" font-size="8.70" fill="#0d0d0d" stroke="#0d0d0d" stroke-width="0.35">50/100</text>
<text transform="translate(489.27,285.96) scale(0.880,1)" font-size="8.70" fill="#0d0d0d" stroke="#0d0d0d" stroke-width="0.35">100/200</text>
<text transform="translate(440.89,165.54) scale(0.951,1)" font-size="10.90" fill="#0d0d0d" stroke="#0d0d0d" stroke-width="0.3">CGP nM</text>
<text transform="translate(432.57,296.81) scale(1.034,1)" font-size="9.69" fill="#0d0d0d" stroke="#0d0d0d" stroke-width="0.3">701/PKC nM</text>
<text x="474.00" y="267.73" font-size="7.96" fill="#0d0d0d" stroke="#0d0d0d" stroke-width="0.3">WT FLT3</text>
<line x1="414.30" y1="190.00" x2="414.30" y2="214.00" stroke="#9a9a9a" stroke-width="1.0" stroke-dasharray="1.6,1.0"/>
<line x1="423.60" y1="191.50" x2="423.60" y2="229.30" stroke="#9a9a9a" stroke-width="1.0" stroke-dasharray="1.6,1.0"/>
<line x1="451.10" y1="190.50" x2="451.10" y2="214.00" stroke="#9a9a9a" stroke-width="1.0" stroke-dasharray="1.6,1.0"/>
<line x1="451.10" y1="228.00" x2="451.10" y2="245.00" stroke="#9a9a9a" stroke-width="1.0" stroke-dasharray="1.6,1.0"/>
<line x1="496.50" y1="192.00" x2="496.50" y2="214.00" stroke="#9a9a9a" stroke-width="0.8" />
<line x1="496.50" y1="232.50" x2="496.50" y2="248.80" stroke="#9a9a9a" stroke-width="0.8" />
<polyline points="405.00,187.10 409.30,191.40 414.30,194.00 423.60,195.50 451.10,196.50 496.50,197.90" fill="none" stroke="#111" stroke-width="1.2" stroke-linejoin="round"/>
<circle cx="405.00" cy="187.10" r="1.35" fill="#111"/>
<circle cx="409.30" cy="191.40" r="1.35" fill="#111"/>
<circle cx="414.30" cy="194.00" r="1.35" fill="#111"/>
<circle cx="423.60" cy="195.50" r="1.35" fill="#111"/>
<circle cx="451.10" cy="196.50" r="1.35" fill="#111"/>
<circle cx="496.50" cy="197.90" r="1.35" fill="#111"/>
<polyline points="405.00,187.10 409.30,195.00 414.30,200.90 423.60,206.50 451.10,210.90 496.50,213.30" fill="none" stroke="#111" stroke-width="1.6" stroke-linejoin="round"/>
<circle cx="405.00" cy="187.10" r="1.50" fill="#111"/>
<circle cx="409.30" cy="195.00" r="1.50" fill="#111"/>
<circle cx="414.30" cy="200.90" r="1.50" fill="#111"/>
<circle cx="423.60" cy="206.50" r="1.50" fill="#111"/>
<circle cx="451.10" cy="210.90" r="1.50" fill="#111"/>
<circle cx="496.50" cy="213.30" r="1.50" fill="#111"/>
<polyline points="405.00,187.10 409.30,195.50 414.30,201.50 423.60,206.90 451.10,211.20 496.50,213.80" fill="none" stroke="#111" stroke-width="1.3" stroke-linejoin="round"/>
<circle cx="405.00" cy="187.10" r="1.40" fill="#111"/>
<circle cx="409.30" cy="195.50" r="1.40" fill="#111"/>
<circle cx="414.30" cy="201.50" r="1.40" fill="#111"/>
<circle cx="423.60" cy="206.90" r="1.40" fill="#111"/>
<circle cx="451.10" cy="211.20" r="1.40" fill="#111"/>
<circle cx="496.50" cy="213.80" r="1.40" fill="#111"/>
<polyline points="405.00,187.10 409.30,199.00 414.30,208.50 423.60,222.40 451.10,235.75 496.50,240.25" fill="none" stroke="#111" stroke-width="1.3" stroke-linejoin="round"/>
<circle cx="405.00" cy="187.10" r="0.60" fill="#111"/>
<circle cx="409.30" cy="199.00" r="0.60" fill="#111"/>
<circle cx="414.30" cy="208.50" r="0.60" fill="#111"/>
<circle cx="423.60" cy="222.40" r="0.60" fill="#111"/>
<circle cx="451.10" cy="235.75" r="0.60" fill="#111"/>
<circle cx="496.50" cy="240.25" r="0.60" fill="#111"/>
<text x="499.98" y="198.65" font-size="4.81" fill="#0d0d0d" stroke="#0d0d0d" stroke-width="0.08">PKC</text>
<text x="484.20" y="209.20" font-size="4.94" fill="#0d0d0d" stroke="#0d0d0d" stroke-width="0.08">CGP</text>
<text x="481.70" y="222.24" font-size="5.08" fill="#0d0d0d" stroke="#0d0d0d" stroke-width="0.08">CGP+PKC</text>
<text x="484.19" y="245.79" font-size="4.92" fill="#0d0d0d" stroke="#0d0d0d" stroke-width="0.08">701</text>
</g>
</svg>
</body></html>
